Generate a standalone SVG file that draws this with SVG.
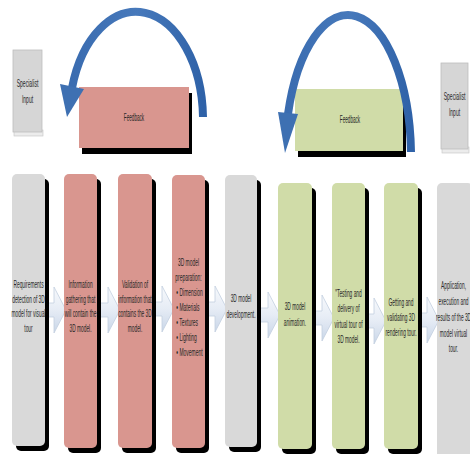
<svg xmlns="http://www.w3.org/2000/svg" width="470" height="454" viewBox="0 0 470 454">
<defs>
<style>
.t{font-family:"Liberation Sans",Arial,sans-serif;font-size:11px;fill:#262626;text-anchor:middle}
.sh{fill:#000}
.gray{fill:#d9d9d9}
.red{fill:#d9968f}
.green{fill:#d0dca8}
.spec{fill:#d6d6d6;stroke:#bdbdbd;stroke-width:0.8}
.specb{fill:#ececec;stroke:#c4c4c4;stroke-width:0.6}
.blk{fill:url(#ag);stroke:#c3cfe0;stroke-width:0.8}
.arc{fill:none;stroke:url(#bg);stroke-width:8;stroke-linecap:butt}
.head{fill:#3e70b2}
</style>
<linearGradient id="ag" x1="0" y1="0" x2="0" y2="1">
<stop offset="0" stop-color="#f7f9fc"/>
<stop offset="0.5" stop-color="#e6ecf5"/>
<stop offset="1" stop-color="#c9d6e8"/>
</linearGradient>
<linearGradient id="bg" x1="0" y1="0" x2="1" y2="0">
<stop offset="0" stop-color="#3a6cb0"/>
<stop offset="0.5" stop-color="#4779bb"/>
<stop offset="1" stop-color="#2f62a8"/>
</linearGradient>
</defs>
<rect width="470" height="454" fill="#ffffff"/>

<g id="connectors">
<path class="blk" d="M45 303 L54 303 L54 287 L66 310 L54 333 L54 317 L45 317 Z"/>
<path class="blk" d="M97 303 L108 303 L108 287 L120 310 L108 333 L108 317 L97 317 Z"/>
<path class="blk" d="M152 302 L162 302 L162 286 L174 309 L162 332 L162 316 L152 316 Z"/>
<path class="blk" d="M205 302 L215 302 L215 286 L227 309 L215 332 L215 316 L205 316 Z"/>
<path class="blk" d="M257 308 L268 308 L268 292 L280 315 L268 338 L268 322 L257 322 Z"/>
<path class="blk" d="M312 311 L322 311 L322 295 L334 318 L322 341 L322 325 L312 325 Z"/>
<path class="blk" d="M365 314 L374 314 L374 298 L386 321 L374 344 L374 328 L365 328 Z"/>
<path class="blk" d="M418 313 L427 313 L427 297 L439 320 L427 343 L427 327 L418 327 Z"/>
</g>

<g id="spec-left">
<rect class="specb" x="14" y="130" width="29" height="6"/>
<rect class="spec" x="13" y="50" width="29" height="82"/>
<text class="t" transform="translate(27.5 0) scale(0.46 1)" font-size="10"><tspan x="0" y="87">Specialist</tspan><tspan x="0" y="103.5">Input</tspan></text>
</g>

<g id="spec-right">
<rect class="specb" x="442" y="147" width="27" height="6"/>
<rect class="spec" x="441" y="63" width="27" height="86"/>
<text class="t" transform="translate(454.5 0) scale(0.46 1)" font-size="10"><tspan x="0" y="100.5">Specialist</tspan><tspan x="0" y="116">Input</tspan></text>
</g>

<g id="feedback-red">
<rect class="sh" x="82" y="93" width="110" height="61"/>
<rect class="red" x="79" y="87" width="110" height="61"/>
<text class="t" transform="translate(134 0) scale(0.42 1)" font-size="10.5"><tspan x="0" y="121.5">Feedback</tspan></text>
</g>

<g id="feedback-green">
<rect class="sh" x="298" y="95" width="108" height="62"/>
<rect class="green" x="295" y="89" width="108" height="62"/>
<text class="t" transform="translate(350 0) scale(0.42 1)" font-size="10.5"><tspan x="0" y="123.5">Feedback</tspan></text>
</g>

<g id="box1">
<rect class="sh" x="16" y="179" width="33" height="272" rx="5"/>
<rect class="gray" x="12" y="174" width="33" height="272" rx="5"/>
<text class="t" transform="translate(28.5 0) scale(0.44 1)"><tspan x="0" y="288.5">Requirements</tspan><tspan x="0" y="303">detection of 3D</tspan><tspan x="0" y="317.5">model for visual</tspan><tspan x="0" y="332">tour</tspan></text>
</g>

<g id="box2">
<rect class="sh" x="68" y="179" width="33" height="274" rx="5"/>
<rect class="red" x="64" y="174" width="33" height="274" rx="5"/>
<text class="t" transform="translate(80.5 0) scale(0.44 1)"><tspan x="0" y="288.5">Information</tspan><tspan x="0" y="303">gathering that</tspan><tspan x="0" y="317.5">will contain the</tspan><tspan x="0" y="332">3D model.</tspan></text>
</g>

<g id="box3">
<rect class="sh" x="122" y="179" width="34" height="274" rx="5"/>
<rect class="red" x="118" y="174" width="34" height="274" rx="5"/>
<text class="t" transform="translate(135 0) scale(0.44 1)"><tspan x="0" y="288.5">Validation of</tspan><tspan x="0" y="303">information that</tspan><tspan x="0" y="317.5">contains the 3D</tspan><tspan x="0" y="332">model.</tspan></text>
</g>

<g id="box4">
<rect class="sh" x="176" y="180" width="33" height="273" rx="5"/>
<rect class="red" x="172" y="175" width="33" height="273" rx="5"/>
<text class="t" transform="translate(188.5 0) scale(0.45 1)"><tspan x="0" y="266">3D model</tspan><tspan x="0" y="281">preparation:</tspan><tspan x="-27" y="296" text-anchor="start">• Dimension</tspan><tspan x="-27" y="311" text-anchor="start">• Materials</tspan><tspan x="-27" y="326" text-anchor="start">• Textures</tspan><tspan x="-27" y="341" text-anchor="start">• Lighting</tspan><tspan x="-27" y="356" text-anchor="start">• Movement</tspan></text>
</g>

<g id="box5">
<rect class="sh" x="229" y="180" width="32" height="272" rx="5"/>
<rect class="gray" x="225" y="175" width="32" height="272" rx="5"/>
<text class="t" transform="translate(241 0) scale(0.44 1)"><tspan x="0" y="302">3D model</tspan><tspan x="0" y="318">development.</tspan></text>
</g>

<g id="box6">
<rect class="sh" x="282" y="188" width="34" height="266" rx="5"/>
<rect class="green" x="278" y="183" width="34" height="266" rx="5"/>
<text class="t" transform="translate(295 0) scale(0.44 1)"><tspan x="0" y="310">3D model</tspan><tspan x="0" y="326">animation.</tspan></text>
</g>

<g id="box7">
<rect class="sh" x="336" y="188" width="33" height="266" rx="5"/>
<rect class="green" x="332" y="183" width="33" height="266" rx="5"/>
<text class="t" transform="translate(348.5 0) scale(0.44 1)"><tspan x="0" y="297">"Testing and</tspan><tspan x="0" y="312.5">delivery of</tspan><tspan x="0" y="328">virtual tour of</tspan><tspan x="0" y="343.5">3D model.</tspan></text>
</g>

<g id="box8">
<rect class="sh" x="388" y="188" width="34" height="266" rx="5"/>
<rect class="green" x="384" y="183" width="34" height="266" rx="5"/>
<text class="t" transform="translate(401 0) scale(0.44 1)"><tspan x="0" y="306">Getting and</tspan><tspan x="0" y="321">validating 3D</tspan><tspan x="0" y="336">rendering tour.</tspan></text>
</g>

<g id="box9">
<rect class="gray" x="437" y="183" width="36" height="280" rx="5"/>
<text class="t" transform="translate(453.5 0) scale(0.44 1)"><tspan x="0" y="289">Application,</tspan><tspan x="0" y="305">execution and</tspan><tspan x="0" y="321">results of the 3D</tspan><tspan x="0" y="337">model virtual</tspan><tspan x="0" y="352.5">tour.</tspan></text>
</g>

<g id="feedback-arrows">
<path class="arc" d="M203 117 A67 108 0 0 0 72 88"/>
<path class="head" d="M60 84 L84 89 L67 117 Z"/>
<path class="arc" d="M411 152 A63 142 0 0 0 288 114"/>
<path class="head" d="M278 112 L298 114 L285 153 Z"/>
</g>
</svg>
